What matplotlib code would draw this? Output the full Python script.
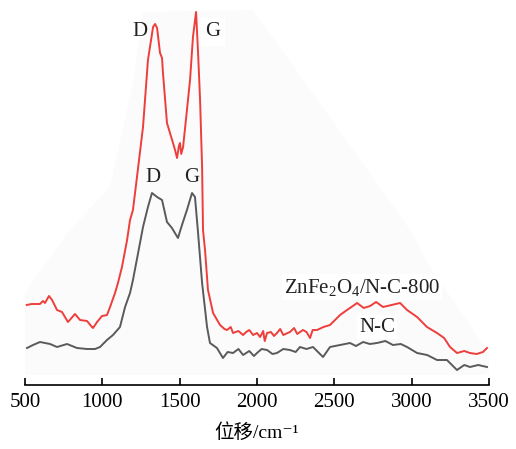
import matplotlib
matplotlib.use('Agg')
import matplotlib.pyplot as plt

plt.rcParams['font.family'] = ['Liberation Serif', 'Noto Sans CJK SC', 'DejaVu Sans']
plt.rcParams['mathtext.fontset'] = 'custom'
plt.rcParams['mathtext.rm'] = 'Liberation Serif'
plt.rcParams['mathtext.it'] = 'Liberation Serif:italic'

# Raman shift (cm-1) and intensity (a.u.)
red_x = [511, 543, 597, 616, 629, 655, 675, 707, 739, 778, 823, 856, 901, 933, 940,
         966, 998, 1030, 1050, 1082, 1101, 1127, 1160, 1179, 1198, 1224, 1263, 1295,
         1328, 1341, 1354, 1373, 1386, 1392, 1418, 1457, 1470, 1483, 1495, 1502, 1510,
         1522, 1535, 1547, 1567, 1586, 1606, 1619, 1632, 1645, 1651, 1664, 1683, 1716,
         1761, 1790, 1806, 1830, 1845, 1880, 1910, 1930, 1950, 1975, 2000, 2020, 2040,
         2050, 2065, 2090, 2110, 2129, 2150, 2170, 2213, 2240, 2260, 2297, 2320, 2343,
         2360, 2388, 2430, 2472, 2537, 2582, 2620, 2647, 2690, 2731, 2770, 2815, 2870,
         2925, 2970, 3035, 3099, 3164, 3210, 3248, 3293, 3340, 3377, 3420, 3461, 3487]
red_y = [77, 78, 78, 81, 79, 86, 82, 72, 70, 60, 68, 62, 61, 55, 54,
         60, 66, 67, 75, 89, 99, 115, 142, 162, 172, 205, 255, 322,
         355, 358, 354, 329, 324, 309, 259, 239, 232, 224, 236, 239, 228,
         235, 254, 272, 302, 345, 370, 329, 282, 215, 152, 132, 92, 69,
         57, 53, 52, 55, 49, 51, 47, 50, 52, 47, 49, 45, 51,
         41, 49, 50, 46, 49, 53, 47, 50, 54, 48, 52, 50, 44,
         52, 52, 55, 57, 67, 72, 76, 79, 74, 76, 80, 75, 77,
         79, 72, 65, 55, 49, 44, 35, 29, 31, 29, 28, 30, 34]

gray_x = [513, 552, 597, 662, 707, 772, 836, 901, 953, 985, 1030, 1069, 1114, 1147,
          1179, 1198, 1230, 1263, 1295, 1321, 1354, 1386, 1418, 1450, 1489, 1515,
          1547, 1580, 1599, 1619, 1645, 1677, 1696, 1741, 1780, 1810, 1845, 1880,
          1910, 1950, 1980, 2000, 2030, 2065, 2100, 2129, 2170, 2213, 2250, 2278,
          2320, 2362, 2427, 2472, 2537, 2601, 2640, 2686, 2730, 2776, 2830, 2879,
          2930, 2970, 3035, 3100, 3164, 3228, 3293, 3340, 3377, 3430, 3487]
gray_y = [34, 37, 40, 38, 35, 38, 34, 33, 33, 35, 42, 47, 55, 75,
          89, 102, 128, 155, 175, 189, 185, 182, 160, 154, 144, 157,
          172, 189, 185, 149, 99, 55, 39, 34, 24, 30, 29, 33,
          27, 31, 26, 29, 33, 32, 28, 29, 33, 32, 30, 35,
          33, 35, 25, 35, 37, 39, 36, 40, 38, 39, 41, 37,
          38, 35, 29, 27, 22, 22, 12, 17, 15, 17, 15]

# faint background panel behind the spectra
bg_x = [500, 500, 791, 1050, 1198, 1263, 1974, 2989, 3119, 3500, 3500]
bg_y = [7, 90, 152, 195, 299, 370, 372, 152, 115, 29, 7]

xticks = [500, 1000, 1500, 2000, 2500, 3000, 3500]

fig = plt.figure(figsize=(5.16, 4.49), dpi=100)
ax = fig.add_axes([25 / 516, 64 / 449, 464 / 516, 385 / 449])

ax.fill(bg_x, bg_y, color='#fbfbfb', lw=0, zorder=0)

ax.plot(red_x, red_y, color='#ee3e3b', lw=1.4, zorder=2)
ax.plot(gray_x, gray_y, color='#5a5a5a', lw=1.4, zorder=2)

txt = dict(fontsize=15, ha='center', va='center', color='#222222')
box = dict(facecolor='white', edgecolor='none', pad=1.5)

ax.text(1244, 350, 'D', **txt)
ax.text(1716, 350, 'G', bbox=dict(facecolor='white', edgecolor='none', pad=3), **txt)
ax.text(1328, 204, 'D', **txt)
ax.text(1580, 204, 'G', **txt)
ax.text(2679, 95, 'ZnFe$_2$O$_4$/N-C-800', bbox=box, zorder=3, **txt)
ax.text(2776, 55, 'N-C', bbox=box, zorder=3, **txt)

ax.set_xlim(500, 3500)
ax.set_ylim(-3, 382)
ax.set_xticks(xticks)
ax.tick_params(axis='x', direction='in', length=5, width=1.2, labelsize=15, pad=6)
ax.set_yticks([])
for s in ['top', 'right', 'left']:
    ax.spines[s].set_visible(False)
ax.spines['bottom'].set_linewidth(1.2)

ax.set_xlabel('位移/cm⁻¹', fontsize=14, labelpad=8)

fig.savefig('out.png', dpi=100)
